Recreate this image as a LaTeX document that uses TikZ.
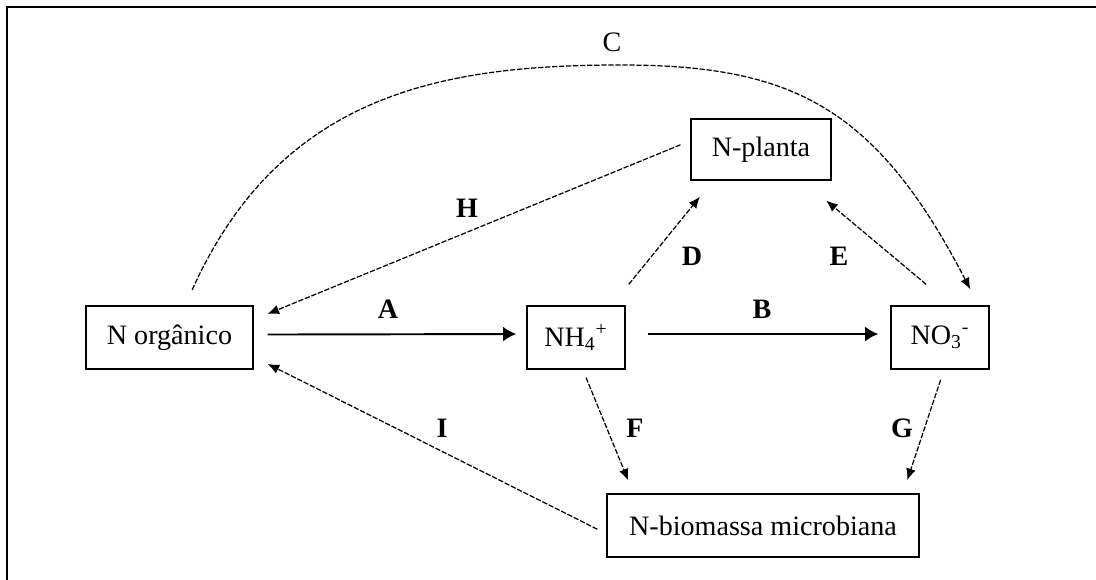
\documentclass[tikz,border=0pt]{standalone}
\usepackage{fontspec}
\setmainfont{Liberation Serif}
\usetikzlibrary{arrows.meta}

\begin{document}
\begin{tikzpicture}[x=0.02cm, y=-0.02cm]
    \tikzstyle{every node}=[align=center];
    \tikzstyle{box} = [draw, line width=0.9pt, inner sep=0pt, minimum height=1.26cm, font=\fontsize{16}{19}\selectfont]
    \tikzstyle{flow} = [-{Latex[length=7.5pt,width=8.5pt]}, line width=1.1pt]
    \tikzstyle{dflow} = [-{Latex[length=6.5pt,width=5.5pt]}, line width=0.7pt, dash pattern=on 3pt off 1pt]
    \tikzstyle{tag} = [font=\fontsize{16}{18}\selectfont\bfseries]

    \useasboundingbox (0,0) rectangle (1096,580);
    \draw[line width=0.9pt] (7,580) -- (7,7) -- (1096,7);

    \node[box, minimum width=3.34cm] (NOrg) at (169.5,337.5) {N orgânico};
    \node[box, minimum width=1.96cm] (NHfour) at (576,337.5) {NH\textsubscript{4}\textsuperscript{+}};
    \node[box, minimum width=1.96cm] (NOthree) at (940,337.5) {NO\textsubscript{3}\textsuperscript{-}};
    \node[box, minimum width=2.8cm, minimum height=1.22cm] (NPlanta) at (761,149.5) {N-planta};
    \node[box, minimum width=6.24cm] (NBio) at (763,525.5) {N-biomassa microbiana};

    \draw[flow, shorten <=7.9pt, shorten >=5.7pt] (NOrg.2.4) -- (NHfour.176);
    \draw[flow, shorten <=12.5pt, shorten >=6.8pt] (NHfour.4) -- (NOthree.176);
    \draw[dflow, shorten <=9.6pt, shorten >=10.2pt] (NOrg.64) .. controls (280,95) and (440,65) .. (620,65)
        .. controls (790,65) and (875,105) .. (NOthree.40);
    \draw[dflow, shorten <=15.3pt, shorten >=11.7pt] (NHfour.42) -- (NPlanta.213);
    \draw[dflow, shorten <=18.5pt, shorten >=17.6pt] (NOthree.71) -- (NPlanta.323);
    \draw[dflow, shorten <=4.8pt, shorten >=7.9pt] (NHfour.282.5) -- (NBio.166.6);
    \draw[dflow, shorten <=6pt, shorten >=7.9pt] (NOthree.277) -- (NBio.13.2);
    \draw[dflow, shorten <=6pt, shorten >=8.5pt] (NPlanta.173.9) -- (NOrg.12.75);
    \draw[dflow, shorten <=5.7pt, shorten >=8.9pt] (NBio.183.3) -- (NOrg.347.5);

    \node[tag] (LabA) at (388,309) {A};
    \node[tag] (LabB) at (762,309) {B};
    \node[tag, font=\fontsize{16}{18}\selectfont] (LabC) at (612,42) {C};
    \node[tag] (LabD) at (692,256) {D};
    \node[tag] (LabE) at (839,256) {E};
    \node[tag] (LabF) at (635,428) {F};
    \node[tag] (LabG) at (902,428) {G};
    \node[tag] (LabH) at (467,208) {H};
    \node[tag] (LabI) at (442,428) {I};

\end{tikzpicture}
\end{document}
